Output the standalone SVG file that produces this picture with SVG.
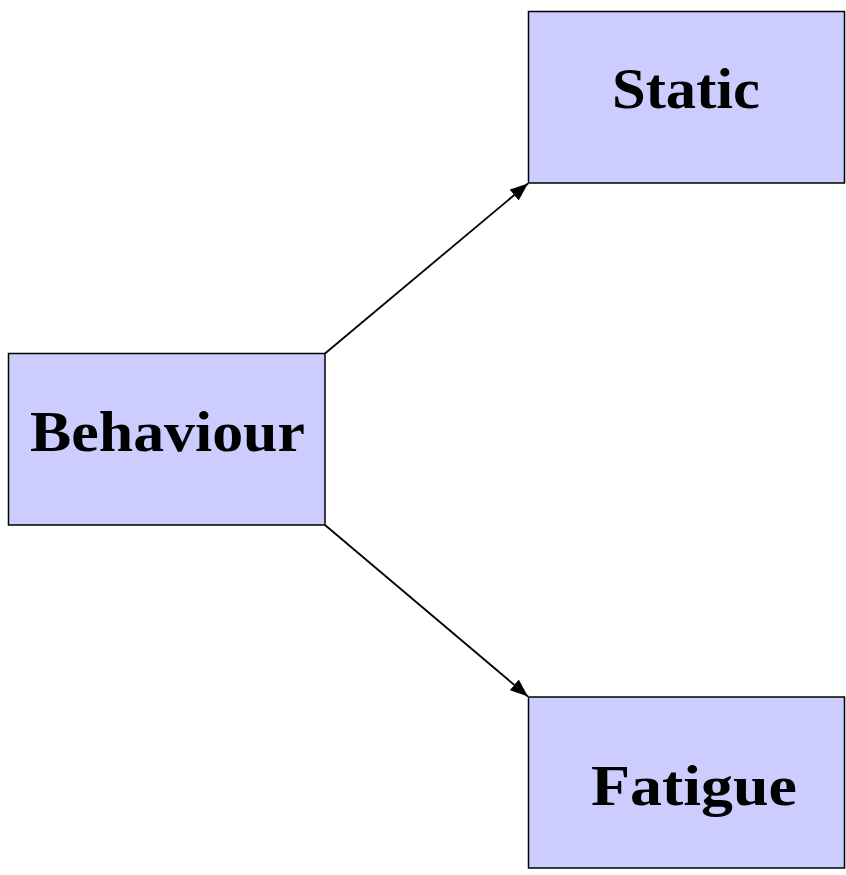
<svg xmlns="http://www.w3.org/2000/svg" width="846" height="875" viewBox="0 0 846 875">
  <style>
    .box { fill: #CCCCFF; stroke: #000; stroke-width: 1.5; }
    .label { font-family: "Liberation Serif", "Times New Roman", serif; font-weight: bold; font-size: 56px; fill: #000; }
    .edge { fill: none; stroke: #000; stroke-width: 1.8; }
  </style>
  <defs>
    <marker id="arrow" viewBox="0 0 18 14" refX="18" refY="7" markerWidth="18" markerHeight="14" markerUnits="userSpaceOnUse" orient="auto">
      <path d="M0,0 L18,7 L0,14 z" fill="#000"/>
    </marker>
  </defs>
  <rect width="846" height="875" fill="#fff"/>

  <g id="connectors">
    <line class="edge" x1="325" y1="353.5" x2="528" y2="183.5" marker-end="url(#arrow)"/>
    <line class="edge" x1="325" y1="525" x2="528" y2="696.5" marker-end="url(#arrow)"/>
  </g>

  <g id="node-behaviour">
    <rect class="box" x="8.5" y="353.5" width="316.5" height="171.5"/>
    <text class="label" x="30" y="451" textLength="275" lengthAdjust="spacingAndGlyphs">Behaviour</text>
  </g>

  <g id="node-static">
    <rect class="box" x="528.5" y="11.5" width="316" height="171.5"/>
    <text class="label" x="612" y="108" textLength="148" lengthAdjust="spacingAndGlyphs">Static</text>
  </g>

  <g id="node-fatigue">
    <rect class="box" x="528.5" y="697" width="316" height="171"/>
    <text class="label" x="591" y="805" textLength="206" lengthAdjust="spacingAndGlyphs">Fatigue</text>
  </g>
</svg>
